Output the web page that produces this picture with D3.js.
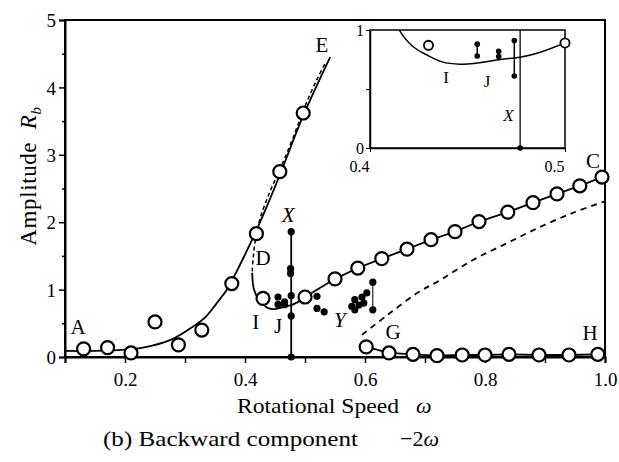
<!DOCTYPE html>
<html lang="en">
<head>
<meta charset="utf-8">
<title>Backward component</title>
<script src="https://d3js.org/d3.v7.min.js"></script>
<style>
  body { margin: 0; background: #fff; }
  svg text { font-family: "Liberation Serif", "Times New Roman", Times, "DejaVu Serif", serif; fill: #000; }
</style>
</head>
<body>
<div id="chart"></div>
<script>
// ---- data ----
// solid curve rising to E
const eOmega = [0.1, 0.15, 0.2, 0.23, 0.275, 0.313, 0.335, 0.353, 0.37, 0.385, 0.4, 0.415, 0.43, 0.458, 0.497, 0.542];
const eAmp   = [0.09, 0.09, 0.11, 0.14, 0.25, 0.45, 0.6, 0.8, 1.0, 1.25, 1.52, 1.8, 2.1, 2.7, 3.58, 4.45];
// dashed (unstable) branch from D alongside E
const eDashOmega = [0.412, 0.414, 0.418, 0.425, 0.44, 0.46, 0.48, 0.5, 0.52, 0.535];
const eDashAmp   = [1.27, 1.5, 1.78, 2.05, 2.42, 2.82, 3.25, 3.72, 4.12, 4.38];
// D - I - J dip
const dijOmega = [0.412, 0.413, 0.415, 0.422, 0.429, 0.437, 0.446, 0.455, 0.467, 0.477, 0.487, 0.5];
const dijAmp   = [1.25, 1.1, 1.0, 0.86, 0.79, 0.73, 0.71, 0.72, 0.75, 0.77, 0.81, 0.89];
// branch up to C (open circles joined)
const cOmega = [0.5, 0.55, 0.588, 0.628, 0.67, 0.71, 0.75, 0.79, 0.838, 0.88, 0.92, 0.958, 0.995, 1.0];
const cAmp   = [0.89, 1.16, 1.32, 1.46, 1.6, 1.74, 1.86, 2.01, 2.15, 2.29, 2.42, 2.54, 2.67, 2.68];
// open circles on the A - E branch
const aOmega = [0.131, 0.171, 0.21, 0.25, 0.289, 0.328, 0.378, 0.419, 0.43, 0.458, 0.497];
const aAmp   = [0.12, 0.14, 0.06, 0.52, 0.18, 0.4, 1.09, 1.83, 0.87, 2.75, 3.62];
// G - H branch
const ghOmega = [0.602, 0.64, 0.68, 0.72, 0.762, 0.8, 0.84, 0.89, 0.94, 0.988, 1.0];
const ghAmp   = [0.15, 0.06, 0.04, 0.02, 0.03, 0.03, 0.04, 0.03, 0.03, 0.04, 0.04];
// dashed curve from G towards C
const gDashOmega = [0.595, 0.637, 0.687, 0.725, 0.78, 0.837, 0.892, 0.947, 1.0];
const gDashAmp   = [0.33, 0.62, 0.95, 1.14, 1.44, 1.69, 1.93, 2.14, 2.31];
// filled dots (X, J, Y clusters)
const dotOmega = [0.477, 0.476, 0.476, 0.477, 0.477, 0.477, 0.455, 0.455, 0.466, 0.466,
                  0.52, 0.52, 0.532, 0.578, 0.583, 0.583, 0.59, 0.595, 0.603, 0.613, 0.613, 0.598];
const dotAmp   = [1.86, 1.31, 1.24, 0.91, 0.61, 0.0, 0.89, 0.78, 0.82, 0.775,
                  0.9, 0.72, 0.67, 0.75, 0.7, 0.85, 0.77, 0.89, 0.95, 1.11, 0.7, 0.8];
const xLine = [[0.477, 0], [0.477, 1.86]];
const yLine = [[0.613, 0.7], [0.613, 1.11]];
// inset (0.4 - 0.5 zoom)
const insetCircOmega = [0.43, 0.5];
const insetCircAmp   = [0.87, 0.89];
const insetDotOmega = [0.455, 0.455, 0.466, 0.466, 0.474, 0.474, 0.477];
const insetDotAmp   = [0.88, 0.78, 0.82, 0.775, 0.91, 0.61, 0.0];
const insetPairs = [[0.455, 0.88, 0.78], [0.466, 0.82, 0.775], [0.474, 0.91, 0.61]];

const xTicks = [0.1, 0.2, 0.3, 0.4, 0.5, 0.6, 0.7, 0.8, 0.9, 1.0];
const yTicks = [0, 0.5, 1, 1.5, 2, 2.5, 3, 3.5, 4, 4.5, 5];

const zip = (a, b) => a.map((v, i) => [v, b[i]]);
const serif = '"Liberation Serif", "Times New Roman", Times, serif';

const W = 619, H = 462;
const svg = d3.select('#chart').append('svg')
  .attr('width', W).attr('height', H)
  .attr('font-family', serif)
  .style('background-color', 'white');

const x = d3.scaleLinear().domain([0.1, 1.0]).range([65, 605]);
const y = d3.scaleLinear().domain([0, 5]).range([357, 20]);

const line = d3.line().x(d => x(d[0])).y(d => y(d[1]));
const smooth = d3.line().x(d => x(d[0])).y(d => y(d[1])).curve(d3.curveCatmullRom);

// curves
svg.append('path').attr('d', smooth(zip(eOmega, eAmp)))
  .attr('fill', 'none').attr('stroke', '#000').attr('stroke-width', 1.8);
svg.append('path').attr('d', smooth(zip(eDashOmega, eDashAmp)))
  .attr('fill', 'none').attr('stroke', '#000').attr('stroke-width', 1.5)
  .attr('stroke-dasharray', '4,3');
svg.append('path').attr('d', smooth(zip(dijOmega, dijAmp)))
  .attr('fill', 'none').attr('stroke', '#000').attr('stroke-width', 1.8);
svg.append('path').attr('d', line(zip(cOmega, cAmp)))
  .attr('fill', 'none').attr('stroke', '#000').attr('stroke-width', 1.8);
svg.append('path').attr('d', line(zip(ghOmega, ghAmp)))
  .attr('fill', 'none').attr('stroke', '#000').attr('stroke-width', 1.8);
svg.append('path').attr('d', smooth(zip(gDashOmega, gDashAmp)))
  .attr('fill', 'none').attr('stroke', '#000').attr('stroke-width', 1.8)
  .attr('stroke-dasharray', '6,5');
svg.append('path').attr('d', line(xLine))
  .attr('fill', 'none').attr('stroke', '#000').attr('stroke-width', 1.8);
svg.append('path').attr('d', line(yLine))
  .attr('fill', 'none').attr('stroke', '#000').attr('stroke-width', 1);

// axes
const xAxis = d3.axisBottom(x).tickValues(xTicks).tickSizeOuter(0).tickSize(6)
  .tickFormat(d => (Math.round(d * 10) % 2 === 0) ? d3.format('.1f')(d) : '');
const gx = svg.append('g').attr('transform', `translate(0, ${y(0)})`).call(xAxis);
const yAxis = d3.axisLeft(y).tickValues(yTicks).tickSizeOuter(0).tickSize(6)
  .tickFormat(d => Number.isInteger(d) ? d : '');
const gy = svg.append('g').attr('transform', `translate(${x(0.1)}, 0)`).call(yAxis);
gy.selectAll('.tick line').attr('x2', d => Number.isInteger(d) ? -6 : -3);
[gx, gy].forEach(g => {
  g.attr('font-family', serif);
  g.select('.domain').attr('stroke-width', 2);
  g.selectAll('.tick line').attr('stroke-width', 1.5);
  g.selectAll('text').style('font-family', serif).style('font-size', '19px');
});
gx.selectAll('text').attr('dy', '1.05em');
gy.selectAll('text').attr('x', -9).attr('dy', '0.35em');

// frame
svg.append('rect').attr('x', x(0.1)).attr('y', y(5))
  .attr('width', x(1.0) - x(0.1)).attr('height', y(0) - y(5))
  .attr('fill', 'none').attr('stroke', '#000').attr('stroke-width', 2);

// open circles
const openPts = zip(aOmega, aAmp).concat(zip(cOmega.slice(0, 13), cAmp.slice(0, 13)), zip(ghOmega.slice(0, 10), ghAmp.slice(0, 10)));
svg.append('g').selectAll('circle').data(openPts).enter().append('circle')
  .attr('cx', d => x(d[0])).attr('cy', d => y(d[1])).attr('r', 6.5)
  .attr('fill', 'white').attr('stroke', '#000').attr('stroke-width', 2.2);
// filled dots
svg.append('g').selectAll('circle').data(zip(dotOmega, dotAmp)).enter().append('circle')
  .attr('cx', d => x(d[0])).attr('cy', d => y(d[1])).attr('r', 3.6)
  .attr('fill', '#000');

// curve labels
const labels = [
  ['A', 0.122, 0.45, false], ['E', 0.528, 4.64, false], ['C', 0.98, 2.92, false],
  ['D', 0.43, 1.47, false], ['I', 0.418, 0.52, false], ['J', 0.455, 0.47, false],
  ['X', 0.472, 2.11, true], ['Y', 0.558, 0.55, true], ['G', 0.647, 0.37, false],
  ['H', 0.975, 0.36, false]
];
svg.append('g').selectAll('text').data(labels).enter().append('text')
  .attr('x', d => x(d[1])).attr('y', d => y(d[2])).attr('dy', '0.35em')
  .attr('text-anchor', 'middle').style('font-size', '21px')
  .style('font-style', d => d[3] ? 'italic' : 'normal')
  .text(d => d[0]);

// axis titles
svg.append('text').attr('transform', 'translate(36, 176) rotate(-90)')
  .attr('text-anchor', 'middle').style('font-size', '23px').style('letter-spacing', '0.6px')
  .html('Amplitude&#160;&#160;<tspan font-style="italic">R</tspan><tspan font-style="italic" font-size="15px" dy="5">b</tspan>');
svg.append('text').attr('x', 237).attr('y', 413)
  .attr('textLength', 162).attr('lengthAdjust', 'spacingAndGlyphs')
  .style('font-size', '22px').text('Rotational Speed');
svg.append('text').attr('x', 416).attr('y', 413)
  .style('font-size', '22px').style('font-style', 'italic').text('ω');
svg.append('text').attr('x', 103).attr('y', 446)
  .attr('textLength', 255).attr('lengthAdjust', 'spacingAndGlyphs')
  .style('font-size', '22px').text('(b) Backward component');
svg.append('text').attr('x', 400).attr('y', 446)
  .style('font-size', '22px')
  .html('−2<tspan font-style="italic">ω</tspan>');

// ---- inset ----
const xi = d3.scaleLinear().domain([0.4, 0.5]).range([370, 565]);
const yi = d3.scaleLinear().domain([0, 1]).range([148, 30]);
const inset = svg.append('g');
inset.append('rect').attr('x', xi(0.4)).attr('y', yi(1))
  .attr('width', xi(0.5) - xi(0.4)).attr('height', yi(0) - yi(1))
  .attr('fill', 'white').attr('stroke', '#000').attr('stroke-width', 1.5);
svg.append('clipPath').attr('id', 'insetClip').append('rect')
  .attr('x', xi(0.4)).attr('y', yi(1))
  .attr('width', xi(0.5) - xi(0.4)).attr('height', yi(0) - yi(1));
const iline = d3.line().x(d => xi(d[0])).y(d => yi(d[1]));
inset.append('path').attr('d', iline.curve(d3.curveCatmullRom)(zip(dijOmega, dijAmp)))
  .attr('clip-path', 'url(#insetClip)')
  .attr('fill', 'none').attr('stroke', '#000').attr('stroke-width', 1.5);
inset.append('line').attr('x1', xi(0.477)).attr('x2', xi(0.477))
  .attr('y1', yi(0)).attr('y2', yi(1)).attr('stroke', '#000').attr('stroke-width', 1.3);
inset.selectAll('.pair').data(insetPairs).enter().append('line')
  .attr('x1', d => xi(d[0])).attr('x2', d => xi(d[0]))
  .attr('y1', d => yi(d[1])).attr('y2', d => yi(d[2]))
  .attr('stroke', '#000').attr('stroke-width', 1.5);
inset.selectAll('.idot').data(zip(insetDotOmega, insetDotAmp)).enter().append('circle')
  .attr('cx', d => xi(d[0])).attr('cy', d => yi(d[1])).attr('r', 2.8).attr('fill', '#000');
inset.selectAll('.icirc').data(zip(insetCircOmega, insetCircAmp)).enter().append('circle')
  .attr('cx', d => xi(d[0])).attr('cy', d => yi(d[1])).attr('r', 4.6)
  .attr('fill', 'white').attr('stroke', '#000').attr('stroke-width', 1.8);
const gxi = inset.append('g').attr('transform', `translate(0, ${yi(0)})`)
  .call(d3.axisBottom(xi).tickValues([0.4, 0.5]).tickSize(4).tickSizeOuter(0).tickFormat(d3.format('.1f')));
const gyi = inset.append('g').attr('transform', `translate(${xi(0.4)}, 0)`)
  .call(d3.axisLeft(yi).tickValues([0, 0.5, 1]).tickSize(4).tickSizeOuter(0)
    .tickFormat(d => Number.isInteger(d) ? d : ''));
[gxi, gyi].forEach(g => {
  g.attr('font-family', serif);
  g.select('.domain').attr('stroke-width', 1.5);
  g.selectAll('text').style('font-family', serif).style('font-size', '16px');
});
gxi.selectAll('text').attr('text-anchor', 'end').attr('x', -1).attr('y', 10).attr('dy', '0.9em');
gyi.selectAll('text').attr('x', -6);
const insetLabels = [['I', 0.439, 0.6, false], ['J', 0.46, 0.57, false], ['X', 0.471, 0.28, true]];
inset.selectAll('.ilab').data(insetLabels).enter().append('text')
  .attr('x', d => xi(d[1])).attr('y', d => yi(d[2])).attr('dy', '0.35em')
  .attr('text-anchor', 'middle').style('font-size', '17px')
  .style('font-style', d => d[3] ? 'italic' : 'normal')
  .text(d => d[0]);
</script>
</body>
</html>
